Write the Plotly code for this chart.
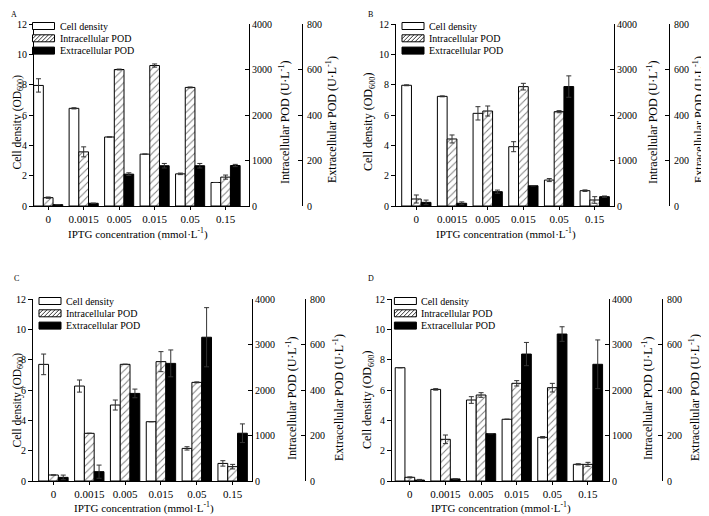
import plotly.graph_objects as go

# page is 709x516; the HTML body adds an 8px margin, so the figure is drawn 8px in
PAGE_W, PAGE_H, OFF = 709, 516, 8
W, H = PAGE_W - OFF, PAGE_H - OFF
FONT = "Liberation Serif"

categories = ["0", "0.0015", "0.005", "0.015", "0.05", "0.15"]
series_names = ["Cell density", "Intracellular POD", "Extracellular POD"]
panel_letters = ["A", "B", "C", "D"]

left_ticks = [0, 2, 4, 6, 8, 10, 12]
intra_ticks = [0, 1000, 2000, 3000, 4000]
extra_ticks = [0, 200, 400, 600, 800]

# ---- Panel A ----
cell_A = [7.95, 6.44, 4.55, 3.42, 2.12, 1.55]
cell_err_A = [0.44, 0.04, 0.0, 0.0, 0.05, 0.0]
intra_A = [183, 1190, 3000, 3087, 2606, 635]
intra_err_A = [15, 110, 10, 35, 10, 45]
extra_A = [6, 12, 140, 177, 177, 178]
extra_err_A = [0, 0, 6, 10, 10, 5]

# ---- Panel B ----
cell_B = [7.96, 7.23, 6.11, 3.91, 1.71, 1.01]
cell_err_B = [0.03, 0.03, 0.44, 0.33, 0.1, 0.05]
intra_B = [154, 1473, 2088, 2623, 2073, 132]
intra_err_B = [88, 88, 110, 73, 23, 73]
extra_B = [16, 12, 63, 89, 525, 41]
extra_err_B = [10, 6, 7, 0, 47, 3]

# ---- Panel C ----
cell_C = [7.69, 6.26, 5.01, 3.91, 2.15, 1.16]
cell_err_C = [0.68, 0.4, 0.33, 0.0, 0.11, 0.18]
intra_C = [132, 1048, 2564, 2623, 2168, 315]
intra_err_C = [0, 0, 5, 220, 10, 50]
extra_C = [16, 41, 385, 517, 632, 210]
extra_err_C = [10, 29, 19, 59, 130, 41]

# ---- Panel D ----
cell_D = [7.47, 6.04, 5.34, 4.07, 2.88, 1.1]
cell_err_D = [0.0, 0.05, 0.22, 0.0, 0.05, 0.04]
intra_D = [81, 916, 1890, 2147, 2051, 366]
intra_err_D = [10, 95, 51, 59, 95, 44]
extra_D = [4, 9, 208, 558, 646, 513]
extra_err_D = [3, 0, 0, 51, 32, 107]

data = [
    (cell_A, cell_err_A, intra_A, intra_err_A, extra_A, extra_err_A),
    (cell_B, cell_err_B, intra_B, intra_err_B, extra_B, extra_err_B),
    (cell_C, cell_err_C, intra_C, intra_err_C, extra_C, extra_err_C),
    (cell_D, cell_err_D, intra_D, intra_err_D, extra_D, extra_err_D),
]

# layout geometry in page pixels: left axis, right axis, third axis, top, bottom, title spots
# lt = (x, y, xanchor) for the left title
geom = [
    dict(L=34, R=249, T3=302, T=24, B=206, xr=[-0.40, 5.66], leg=-1.5,
         lt=(8.5, 122, "left"), it=(284, 122), et=(331, 120), xt=(138, 233),
         let=(8.5, 8.5)),
    dict(L=396, R=614, T3=669, T=24, B=206, xr=[-0.57, 5.54], leg=6,
         lt=(369, 122, "center"), it=(652, 122), et=(698, 120), xt=(506, 233),
         let=(366, 8.5)),
    dict(L=33, R=252, T3=305, T=299, B=481, xr=[-0.57, 5.54], leg=6,
         lt=(8.5, 400, "left"), it=(291, 398), et=(338, 398), xt=(144, 507),
         let=(12, 272)),
    dict(L=392, R=609, T3=662, T=299, B=481, xr=[-0.50, 5.59], leg=2.4,
         lt=(368, 400, "center"), it=(647, 398), et=(694, 398), xt=(501, 507),
         let=(366, 272)),
]


def px(x):
    return (x - OFF) / W


def py(y):
    return 1 - (y - OFF) / H


fig = go.Figure()
layout = dict(
    width=W, height=H, margin=dict(l=0, r=0, t=0, b=0),
    paper_bgcolor="white", plot_bgcolor="rgba(0,0,0,0)",
    barmode="group", bargap=0.18, bargroupgap=0,
    showlegend=False, font=dict(family=FONT, color="black", size=11),
)
shapes = []
annotations = []

err_style = dict(type="data", color="#333333", thickness=1, width=2.5)
yfont = dict(family=FONT, size=10, color="black")

for i, (g, d) in enumerate(zip(geom, data)):
    cell, cell_err, intra, intra_err, extra, extra_err = d
    xa = "x" if i == 0 else f"x{i + 1}"
    n1, n2, n3 = 3 * i + 1, 3 * i + 2, 3 * i + 3
    ya1 = "y" if n1 == 1 else f"y{n1}"
    ya2, ya3 = f"y{n2}", f"y{n3}"
    ag = f"panel{i}"

    fig.add_trace(go.Bar(
        x=categories, y=cell, name=series_names[0],
        error_y=dict(array=cell_err, **err_style),
        marker=dict(color="white", line=dict(color="black", width=1)),
        xaxis=xa, yaxis=ya1, offsetgroup="1", alignmentgroup=ag))
    fig.add_trace(go.Bar(
        x=categories, y=intra, name=series_names[1],
        error_y=dict(array=intra_err, **err_style),
        marker=dict(color="white", line=dict(color="black", width=1),
                    pattern=dict(shape="/", fgcolor="black", bgcolor="white",
                                 size=5, solidity=0.2)),
        xaxis=xa, yaxis=ya2, offsetgroup="2", alignmentgroup=ag))
    fig.add_trace(go.Bar(
        x=categories, y=extra, name=series_names[2],
        error_y=dict(array=extra_err, **err_style),
        marker=dict(color="black", line=dict(color="black", width=1)),
        xaxis=xa, yaxis=ya3, offsetgroup="3", alignmentgroup=ag))

    xdom = [px(g["L"]), px(g["R"])]
    ydom = [py(g["B"]), py(g["T"])]
    common = dict(showline=True, linecolor="black", linewidth=1, showgrid=False,
                  zeroline=False, tickcolor="black", tickwidth=1, automargin=False)

    layout["xaxis" if i == 0 else f"xaxis{i + 1}"] = dict(
        domain=xdom, anchor=ya1, type="category", range=g["xr"],
        ticks="outside", ticklen=3, tickfont=dict(family=FONT, size=11, color="black"),
        **common)
    layout["yaxis" if n1 == 1 else f"yaxis{n1}"] = dict(
        domain=ydom, anchor=xa, range=[0, 12], tickvals=left_ticks,
        ticks="outside", ticklen=4, tickfont=yfont, **common)
    layout[f"yaxis{n2}"] = dict(
        domain=ydom, overlaying=ya1, side="right", anchor=xa, range=[0, 4000],
        tickvals=intra_ticks, ticks="inside", ticklen=4, tickfont=yfont, **common)
    layout[f"yaxis{n3}"] = dict(
        domain=ydom, overlaying=ya1, side="right", anchor="free",
        position=px(g["T3"]), range=[0, 800], tickvals=extra_ticks,
        ticks="inside", ticklen=4, tickfont=yfont, ticklabelstandoff=2, **common)

    tfont = dict(family=FONT, size=12, color="black")
    lfont = dict(family=FONT, size=11.5 if g["lt"][2] == "left" else 12, color="black")
    annotations.append(dict(x=px(g["lt"][0]), y=py(g["lt"][1]), xref="paper", yref="paper",
                            text="Cell density (OD<sub>600</sub>)", textangle=-90,
                            showarrow=False, font=lfont,
                            xanchor=g["lt"][2], yanchor="middle"))
    for key, txt in (("it", "Intracellular POD (U·L<sup>-1</sup>)"),
                     ("et", "Extracellular POD (U·L<sup>-1</sup>)")):
        annotations.append(dict(x=px(g[key][0]), y=py(g[key][1]), xref="paper", yref="paper",
                                text=txt, textangle=-90, showarrow=False, font=tfont,
                                xanchor="center", yanchor="middle"))
    annotations.append(dict(x=px(g["xt"][0]), y=py(g["xt"][1]), xref="paper", yref="paper",
                            text="IPTG concentration (mmol·L<sup>-1</sup>)",
                            showarrow=False, font=dict(family=FONT, size=11, color="black"),
                            xanchor="center", yanchor="middle"))
    annotations.append(dict(x=px(g["let"][0]), y=py(g["let"][1]), xref="paper", yref="paper",
                            text=panel_letters[i], showarrow=False,
                            font=dict(family=FONT, size=8, color="black"),
                            xanchor="left", yanchor="top"))

    # custom legend
    sw_w, sw_h, pitch = 22, 7, 12.3
    for k in range(3):
        x0 = g["L"] + g["leg"]
        x1 = x0 + sw_w
        y0 = g["T"] - 1.5 + pitch * k
        y1 = y0 + sw_h
        fill = "black" if k == 2 else "white"
        shapes.append(dict(type="rect", xref="paper", yref="paper",
                           x0=px(x0), x1=px(x1), y0=py(y1), y1=py(y0),
                           fillcolor=fill, line=dict(color="black", width=1)))
        if k == 1:
            s = 4.0
            kk = x0 + y0 + s
            while kk < x1 + y1:
                xa_ = max(x0, kk - y1)
                xb_ = min(x1, kk - y0)
                if xb_ > xa_:
                    shapes.append(dict(type="line", xref="paper", yref="paper",
                                       x0=px(xa_), y0=py(kk - xa_), x1=px(xb_), y1=py(kk - xb_),
                                       line=dict(color="black", width=0.8)))
                kk += s
        annotations.append(dict(x=px(x1 + 3), y=py((y0 + y1) / 2), xref="paper", yref="paper",
                                text=series_names[k], showarrow=False,
                                font=dict(family=FONT, size=10, color="black"),
                                xanchor="left", yanchor="middle"))

layout["shapes"] = shapes
layout["annotations"] = annotations
fig.update_layout(**layout)
fig.write_html("out.html")
